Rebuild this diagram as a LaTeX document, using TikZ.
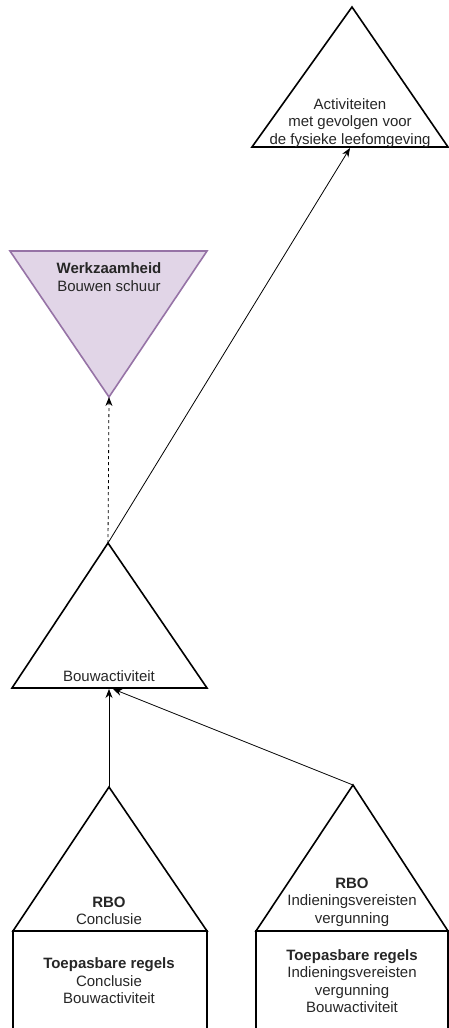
\documentclass[tikz,border=0pt]{standalone}
\usepackage{fontspec}
\setmainfont{Liberation Sans}
\usepackage{xcolor}
\usetikzlibrary{arrows.meta,positioning}
\definecolor{PurpleFill}{HTML}{E1D5E7}
\definecolor{PurpleLine}{HTML}{9673A6}
\definecolor{EdgeLine}{HTML}{000000}
\tikzset{
  triline/.style={
    line width=1.6pt,
    draw=black,
    line join=miter,
  },
  label/.style={
    align=center,
    inner sep=0pt,
    font=\fontsize{15}{17.5}\selectfont,
    text=black!85,
  },
  flow/.style={
    -{Stealth[length=9pt,width=7pt]},
    line width=0.8pt,
    draw=EdgeLine,
  },
  flowdash/.style={
    flow,
    dash pattern=on 3pt off 3pt,
  }
}

\begin{document}
\begin{tikzpicture}[x=1pt,y=-1pt]
  \clip (0,0) rectangle (449,1028);

  % corner points of the triangles
  \coordinate (actTop) at (352,7);
  \coordinate (actL) at (252,147);
  \coordinate (actR) at (448,147);
  \coordinate (actIn) at (350,148);

  \coordinate (werkL) at (10,251);
  \coordinate (werkR) at (207,251);
  \coordinate (werkTip) at (109,397);

  \coordinate (bouwTop) at (108,543);
  \coordinate (bouwL) at (12,688);
  \coordinate (bouwR) at (207,688);
  \coordinate (bouwIn) at (109,689);
  \coordinate (bouwIn2) at (113,689);

  \coordinate (concTop) at (109,787);
  \coordinate (concL) at (13,931);
  \coordinate (concR) at (207,931);

  \coordinate (indTop) at (353,785);
  \coordinate (indL) at (256,931);
  \coordinate (indR) at (448,931);

  % triangles
  \draw[triline] (actTop) -- (actR) -- (actL) -- cycle;
  \draw[triline, draw=PurpleLine, fill=PurpleFill] (werkL) -- (werkR) -- (werkTip) -- cycle;
  \draw[triline] (bouwTop) -- (bouwR) -- (bouwL) -- cycle;
  \draw[triline] (concTop) -- (concR) -- (concL) -- cycle;
  \draw[triline] (indTop) -- (indR) -- (indL) -- cycle;

  % boxes below the RBO triangles
  \draw[triline] (concL) rectangle (207,1040);
  \draw[triline] (indL) rectangle (448,1040);

  % texts
  \node[label] (act) at (350,123) {
    Activiteiten\\
    met gevolgen voor\\
    de fysieke leefomgeving
  };

  \node[label] (werk) at (109,277) {
    \textbf{Werkzaamheid}\\
    Bouwen schuur
  };

  \node[label] (bouw) at (109,676) {Bouwactiviteit};

  \node[label] (conc) at (109,911) {
    \textbf{RBO}\\
    Conclusie
  };

  \node[label] (ind) at (352,902) {
    \textbf{RBO}\\
    Indieningsvereisten\\
    vergunning
  };

  \node[label] (concRegels) at (109,981) {
    \textbf{Toepasbare regels}\\
    Conclusie\\
    Bouwactiviteit
  };

  \node[label] (indRegels) at (352,981) {
    \textbf{Toepasbare regels}\\
    Indieningsvereisten\\
    vergunning\\
    Bouwactiviteit
  };

  % connectors
  \draw[flowdash] (bouwTop) -- (werkTip);
  \draw[flow] (bouwTop) -- (actIn);
  \draw[flow] (concTop) -- (bouwIn);
  \draw[flow] (indTop) -- (bouwIn2);
\end{tikzpicture}
\end{document}
